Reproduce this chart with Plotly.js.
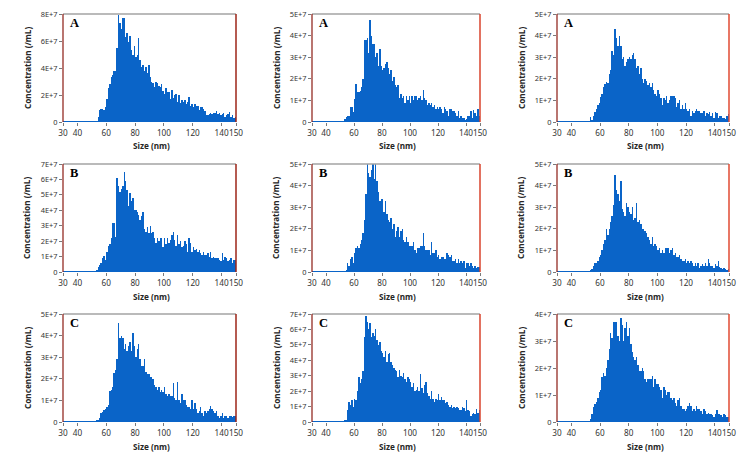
<!DOCTYPE html>
<html>
<head>
<meta charset="utf-8">
<script src="https://cdn.plot.ly/plotly-3.0.1.min.js"></script>
<style>
  html, body { margin: 0; padding: 0; background: #ffffff; }
  #chart { width: 750px; height: 460px; }
</style>
</head>
<body>
<div id="chart"></div>
<script>
// Particle size distributions, 1 nm bins from 30 to 150 nm.
// Concentrations are in units of 1E+7 particles/mL.
var binStart = 30.5;   // centre of the first bin (nm)
var binWidth = 1;      // nm
var sizeTicks = [30, 40, 60, 80, 100, 120, 140, 150];

var concA1 = [
  0.05,0.05,0.05,0.05,0.05,0.05,0.05,0.05,0.05,0.05,
  0.05,0.05,0.05,0.05,0.05,0.05,0.05,0.05,0.05,0.05,
  0.05,0.05,0.05,0.05,0.35,0.9,1.0,0.95,0.9,1.1,
  1.7,2.5,2.8,3.3,3.5,3.8,3.8,5.5,7.9,7.3,
  6.9,7.7,7.7,6.3,6.6,5.9,6.4,5.3,5.0,5.6,
  4.8,5.0,6.2,4.6,4.1,4.2,3.8,4.1,3.6,4.2,
  3.3,3.0,2.9,2.6,3.0,2.9,2.7,2.6,2.8,2.3,
  2.1,2.5,2.2,2.2,1.7,2.4,1.8,2.0,2.1,1.5,
  2.0,1.4,1.6,1.5,1.6,1.3,1.5,1.85,1.2,1.3,
  1.1,1.3,1.2,1.2,0.9,1.1,1.1,1.0,0.8,0.5,
  0.5,0.6,0.7,0.6,0.7,0.7,0.8,0.6,0.7,0.5,
  0.6,0.7,0.4,0.5,0.6,0.75,0.4,0.5,0.3,0.4
];
var concA2 = [
  0.05,0.05,0.05,0.05,0.05,0.05,0.05,0.05,0.05,0.05,
  0.05,0.05,0.05,0.05,0.05,0.05,0.05,0.05,0.05,0.05,
  0.05,0.05,0.05,0.15,0.25,0.3,0.3,0.7,0.7,0.45,
  1.05,1.75,1.4,1.4,1.45,1.6,2.0,3.8,3.8,3.9,
  3.2,4.7,4.0,3.6,3.6,3.0,3.2,2.6,3.4,2.6,
  2.4,2.5,2.7,2.8,2.5,2.2,2.4,1.9,2.1,1.7,
  1.6,1.7,1.1,1.3,1.1,1.2,0.9,1.2,1.0,1.2,
  0.9,1.2,1.0,1.2,1.2,1.0,1.1,1.2,1.0,1.5,
  1.1,1.0,0.8,0.9,0.8,0.9,0.7,0.8,0.6,0.7,
  0.6,0.7,0.6,0.4,0.7,0.6,0.5,0.3,0.6,0.6,
  0.5,0.5,0.4,0.3,0.5,0.2,0.3,0.2,0.2,0.1,
  0.15,0.3,0.3,0.5,0.2,0.55,0.4,0.3,0.6,0.3
];
var concA3 = [
  0.05,0.05,0.05,0.05,0.05,0.05,0.05,0.05,0.05,0.05,
  0.05,0.05,0.05,0.05,0.05,0.05,0.05,0.05,0.05,0.05,
  0.05,0.05,0.05,0.25,0.1,0.3,0.45,0.6,0.8,0.9,
  1.15,1.3,1.6,1.75,1.85,1.8,2.2,2.4,3.3,3.1,
  4.3,3.9,3.5,4.0,3.5,2.9,3.0,2.6,2.8,2.9,
  3.0,2.9,3.1,3.2,2.9,2.5,2.6,2.2,2.5,2.0,
  1.8,2.0,1.9,1.7,1.8,1.6,1.8,1.5,1.3,1.2,
  1.5,1.3,1.1,0.8,1.1,1.0,1.2,0.9,1.0,1.2,
  1.2,1.2,1.1,0.7,0.9,1.0,0.6,0.8,0.6,0.9,
  0.6,0.5,0.6,0.3,0.5,0.4,0.5,0.6,0.5,0.5,
  0.4,0.4,0.5,0.3,0.4,0.35,0.45,0.3,0.4,0.2,
  0.45,0.4,0.2,0.3,0.3,0.2,0.2,0.15,0.3,0.35
];
var concB1 = [
  0.05,0.05,0.05,0.05,0.05,0.05,0.05,0.05,0.05,0.05,
  0.05,0.05,0.05,0.05,0.05,0.05,0.05,0.05,0.05,0.05,
  0.05,0.05,0.05,0.15,0.3,0.45,0.6,0.9,1.05,0.8,
  1.3,1.7,1.8,2.2,3.2,3.2,2.3,6.1,5.6,5.2,
  5.4,5.6,6.5,5.9,5.3,4.3,5.1,4.6,4.8,4.0,
  4.0,3.9,3.7,3.4,3.6,3.9,2.8,2.6,2.9,2.5,
  3.0,2.5,2.6,2.2,1.9,2.2,2.0,2.2,2.2,1.6,
  2.2,1.8,2.2,1.9,2.1,2.4,2.6,2.1,1.7,2.4,
  1.8,2.0,1.6,1.7,2.0,1.8,1.3,2.2,1.9,1.3,
  1.6,1.4,1.5,1.3,1.4,1.2,1.1,1.3,1.1,1.1,
  1.2,1.0,1.3,0.9,1.0,0.9,0.9,0.9,0.8,0.7,
  1.2,0.8,1.0,0.9,0.7,0.8,0.9,0.6,0.8,0.8
];
var concB2 = [
  0.05,0.05,0.05,0.05,0.05,0.05,0.05,0.05,0.05,0.05,
  0.05,0.05,0.05,0.05,0.05,0.05,0.05,0.05,0.05,0.05,
  0.05,0.05,0.05,0.05,0.1,0.4,0.3,0.6,0.7,0.4,
  0.9,1.1,1.2,1.1,1.3,1.5,1.8,2.4,3.6,5.3,
  4.6,4.4,4.7,5.3,4.3,5.4,4.2,3.7,3.3,3.4,
  3.4,2.8,3.3,2.7,2.4,2.3,2.5,2.0,2.2,1.6,
  1.9,2.1,1.6,1.9,2.0,1.5,1.4,1.6,1.4,1.2,
  1.2,1.2,1.4,1.0,0.9,1.1,1.1,1.2,1.2,1.8,
  1.2,1.0,1.0,1.0,0.8,1.4,0.9,0.9,1.0,0.7,
  0.8,0.6,0.7,0.7,0.6,0.6,0.9,0.8,0.7,0.8,
  0.5,0.5,0.6,0.4,0.6,0.4,0.5,0.4,0.5,0.2,
  0.4,0.4,0.3,0.4,0.3,0.2,0.3,0.2,0.25,0.25
];
var concB3 = [
  0.05,0.05,0.05,0.05,0.05,0.05,0.05,0.05,0.05,0.05,
  0.05,0.05,0.05,0.05,0.05,0.05,0.05,0.05,0.05,0.05,
  0.05,0.05,0.05,0.1,0.15,0.3,0.4,0.4,0.5,0.7,
  0.8,1.0,1.3,1.5,2.0,1.7,2.0,2.3,2.6,3.1,
  4.5,3.8,3.6,3.3,4.2,2.9,2.8,2.6,3.2,3.0,
  2.8,2.7,3.0,2.4,2.5,3.2,2.3,2.4,2.2,2.0,
  2.0,1.9,1.8,1.6,1.5,1.3,1.6,1.2,1.3,1.2,
  1.0,1.1,0.9,1.0,0.9,1.1,1.1,1.1,0.9,1.0,
  1.1,0.8,0.9,0.7,0.7,0.8,0.6,0.5,0.5,0.6,
  0.4,0.5,0.4,0.5,0.4,0.3,0.4,0.3,0.4,0.2,
  0.3,0.35,0.3,0.4,0.3,0.6,0.4,0.3,0.3,0.2,
  0.35,0.3,0.5,0.25,0.2,0.15,0.2,0.15,0.1,0.15
];
var concC1 = [
  0.05,0.05,0.05,0.05,0.05,0.05,0.05,0.05,0.05,0.05,
  0.05,0.05,0.05,0.05,0.05,0.05,0.05,0.05,0.05,0.05,
  0.05,0.05,0.05,0.1,0.1,0.2,0.4,0.45,0.55,0.6,
  0.7,0.8,1.45,1.5,1.6,2.25,2.4,2.9,4.6,3.9,
  4.0,3.9,3.4,3.6,3.3,3.5,3.7,3.3,4.1,3.5,
  3.0,3.4,3.6,2.9,2.6,2.6,2.9,2.3,2.2,2.2,
  2.1,2.1,2.0,1.7,1.6,1.5,1.6,1.4,1.5,1.4,
  1.6,1.3,1.2,1.3,1.2,1.2,1.8,1.1,1.0,1.85,
  1.0,0.9,1.3,1.0,1.0,0.8,0.7,0.7,0.6,1.0,
  0.6,0.9,0.6,0.4,0.5,0.7,0.4,0.3,0.5,0.4,
  0.5,0.6,0.75,0.6,0.5,0.4,0.5,0.3,0.2,0.3,
  0.4,0.2,0.3,0.3,0.2,0.3,0.3,0.25,0.3,0.3
];
var concC2 = [
  0.05,0.05,0.05,0.05,0.05,0.05,0.05,0.05,0.05,0.05,
  0.05,0.05,0.05,0.05,0.05,0.05,0.05,0.05,0.05,0.05,
  0.05,0.05,0.05,0.1,0.15,0.8,1.3,1.1,1.4,1.0,
  1.5,1.4,2.0,2.9,2.5,2.8,3.3,5.5,6.9,6.5,
  6.0,6.4,5.5,5.8,5.6,6.0,5.3,5.0,5.2,4.6,
  4.5,4.2,4.6,3.9,4.4,4.5,3.9,3.7,3.5,3.4,
  3.3,2.9,3.4,3.0,2.9,3.2,2.8,2.6,2.9,2.8,
  2.6,2.3,2.5,2.0,2.1,2.3,2.0,3.1,2.2,1.9,
  2.4,2.6,1.9,1.7,1.5,2.0,1.5,1.3,1.5,1.4,
  1.8,1.4,1.6,1.4,1.4,1.2,1.3,1.1,1.0,1.1,
  0.9,1.0,0.9,1.0,0.9,0.8,0.8,1.0,0.9,0.7,
  1.4,0.8,0.7,0.4,0.5,0.6,0.5,0.85,0.6,0.8
];
var concC3 = [
  0.05,0.05,0.05,0.05,0.05,0.05,0.05,0.05,0.05,0.05,
  0.05,0.05,0.05,0.05,0.05,0.05,0.05,0.05,0.05,0.05,
  0.05,0.05,0.05,0.1,0.3,0.55,0.65,0.75,0.9,1.1,
  1.2,1.65,1.8,1.7,2.0,2.3,2.7,3.3,3.1,3.7,
  3.7,3.7,3.2,3.0,3.85,3.6,3.0,3.5,3.7,3.2,
  3.5,2.9,2.6,2.4,2.3,2.4,2.1,1.9,1.9,2.0,
  1.9,1.6,1.5,1.6,1.6,1.6,1.7,1.3,1.6,1.4,
  1.4,1.3,1.2,0.9,1.3,1.2,1.0,1.1,1.1,0.9,
  0.8,0.9,0.7,0.6,0.8,0.9,0.6,0.5,0.5,0.4,
  0.5,0.6,0.7,0.6,0.4,0.5,0.4,0.6,0.5,0.5,
  0.4,0.3,0.5,0.4,0.3,0.35,0.3,0.3,0.25,0.2,
  0.3,0.45,0.3,0.3,0.25,0.2,0.3,0.25,0.2,0.2
];

// Panel order: row by row, left to right
var series  = [concA1, concA2, concA3, concB1, concB2, concB3, concC1, concC2, concC3];
var letters = ['A', 'A', 'A', 'B', 'B', 'B', 'C', 'C', 'C'];
var yMax    = [8, 5, 5, 7, 5, 5, 5, 7, 4];
var yStep   = [2, 1, 1, 1, 1, 1, 1, 1, 1];

// Plot-area boxes in pixels
var W = 750, H = 460;
var colBox = [[63, 236], [312, 480], [557, 729]];
var rowBox = [[14, 122], [164, 272], [314, 422]];
var rightEdge = ['#9c2417', '#d8432c', '#e04a32'];

var BAR = '#0a64c8';
var TXT = '#333333';
var SANS = 'Noto Sans, Open Sans, sans-serif';

var data = [];
var layout = {
  width: W, height: H,
  margin: {l: 0, r: 0, t: 0, b: 0},
  paper_bgcolor: '#ffffff',
  plot_bgcolor: '#ffffff',
  showlegend: false,
  bargap: 0,
  font: {family: SANS, color: TXT, size: 7},
  shapes: [],
  annotations: []
};

for (var i = 0; i < 9; i++) {
  var n = i + 1;
  var sfx = n === 1 ? '' : String(n);
  var c = i % 3, r = Math.floor(i / 3);
  var xb = colBox[c], yb = rowBox[r];

  data.push({
    type: 'bar',
    x0: binStart, dx: binWidth,
    y: series[i],
    xaxis: 'x' + sfx, yaxis: 'y' + sfx,
    marker: {color: BAR, line: {width: 0}},
    hoverinfo: 'skip'
  });

  var tv = [], tt = [];
  for (var v = 0; v <= yMax[i]; v += yStep[i]) {
    tv.push(v);
    tt.push(v === 0 ? '0' : v + 'E+7');
  }

  layout['xaxis' + sfx] = {
    domain: [xb[0] / W, xb[1] / W],
    anchor: 'y' + sfx,
    range: [30, 150],
    tickvals: sizeTicks,
    tickangle: 0,
    ticks: 'outside', ticklen: 3, tickwidth: 1, tickcolor: '#7a7a7a',
    tickfont: {family: SANS, size: 8.2, color: TXT},
    showgrid: false, zeroline: false, showline: false,
    fixedrange: true
  };
  layout['yaxis' + sfx] = {
    domain: [1 - yb[1] / H, 1 - yb[0] / H],
    anchor: 'x' + sfx,
    range: [0, yMax[i]],
    tickvals: tv, ticktext: tt,
    ticks: 'outside', ticklen: 3, tickwidth: 1, tickcolor: '#7a7a7a',
    tickfont: {family: SANS, size: 7.4, color: TXT},
    showgrid: false, zeroline: false, showline: false,
    fixedrange: true
  };

  // frame: grey top, dark red left, red right
  var xd = 'x' + sfx + ' domain', yd = 'y' + sfx + ' domain';
  layout.shapes.push(
    {type: 'line', xref: xd, yref: yd, x0: 0, x1: 1, y0: 1, y1: 1,
     line: {color: '#a3a3a3', width: 1.5}},
    {type: 'line', xref: xd, yref: yd, x0: 0, x1: 0, y0: 0, y1: 1,
     line: {color: '#8a1a12', width: 1.2}},
    {type: 'line', xref: xd, yref: yd, x0: 1, x1: 1, y0: 0, y1: 1,
     line: {color: rightEdge[c], width: 1.5}}
  );

  // panel letter
  layout.annotations.push({
    xref: 'paper', yref: 'paper',
    x: (xb[0] + 5) / W, y: 1 - (yb[0] + 9) / H,
    xanchor: 'left', yanchor: 'middle',
    text: letters[i], showarrow: false,
    font: {family: 'Liberation Serif, Times New Roman, serif', size: 12.5, color: '#000000', weight: 'bold'}
  });
  // axis titles
  layout.annotations.push({
    xref: 'paper', yref: 'paper',
    x: (xb[0] - 36) / W, y: 1 - ((yb[0] + yb[1]) / 2) / H,
    xanchor: 'center', yanchor: 'middle',
    textangle: -90,
    text: 'Concentration (/mL)', showarrow: false,
    font: {family: SANS, size: 8.2, color: '#262626', weight: 'bold'}
  });
  layout.annotations.push({
    xref: 'paper', yref: 'paper',
    x: ((xb[0] + xb[1]) / 2 + 2) / W, y: 1 - (yb[1] + 24) / H,
    xanchor: 'center', yanchor: 'middle',
    text: 'Size (nm)', showarrow: false,
    font: {family: SANS, size: 8.2, color: '#262626', weight: 'bold'}
  });
}

Plotly.newPlot('chart', data, layout, {staticPlot: true, displayModeBar: false});
</script>
</body>
</html>
